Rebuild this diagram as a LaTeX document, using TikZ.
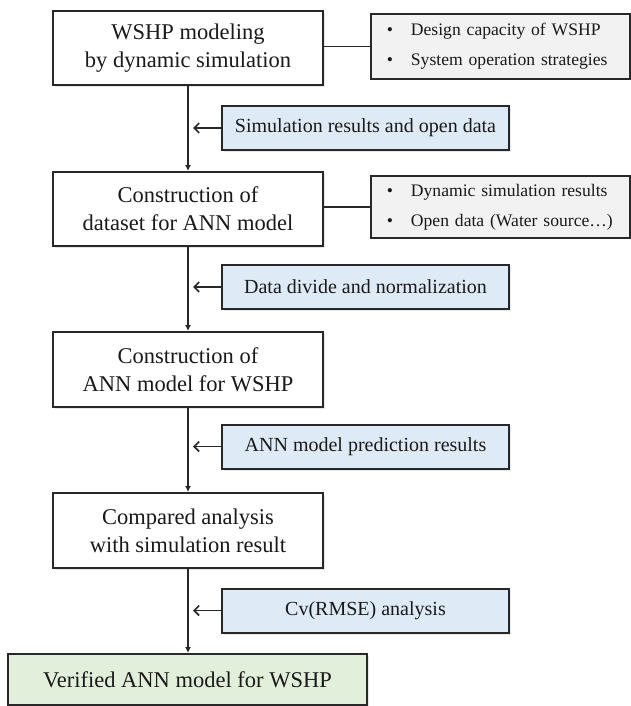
\documentclass[tikz,border=0pt]{standalone}
\usepackage{fontspec}
\setmainfont{Liberation Serif}
\usepackage{xcolor}
\usepackage{tikz}
\usetikzlibrary{arrows.meta, shadows}
\definecolor{inputblue}{RGB}{222, 235, 247}
\definecolor{notegray}{RGB}{242, 242, 242}
\definecolor{resultgreen}{RGB}{226, 239, 218}
\definecolor{edgegray}{RGB}{40, 40, 40}
\definecolor{inkgray}{RGB}{25, 25, 25}

\begin{document}
\begin{tikzpicture}[x=1pt, y=-1pt,
  boxshadow/.style={drop shadow={shadow xshift=2pt, shadow yshift=-2pt, opacity=0.2}},
  stagebox/.style={draw=edgegray, line width=2pt, fill=white, boxshadow, minimum width=270pt, minimum height=74pt, align=center, text=inkgray, font=\fontsize{22.5}{28}\selectfont},
  inputbox/.style={draw=edgegray, line width=2pt, fill=inputblue, boxshadow, minimum width=287pt, minimum height=44pt, text=inkgray, font=\fontsize{20}{24}\selectfont},
  notebox/.style={draw=edgegray, line width=1.6pt, fill=notegray, anchor=west, text width=227pt, inner xsep=16pt, minimum height=65pt, align=left, text=inkgray, font=\fontsize{17.6}{30}\selectfont},
  resultbox/.style={draw=edgegray, line width=2pt, fill=resultgreen, boxshadow, minimum width=359pt, minimum height=51pt, text=inkgray, font=\fontsize{22.5}{28}\selectfont},
  flow/.style={draw=edgegray, line width=1.6pt, -{Latex[length=6pt, width=6pt]}},
  feed/.style={draw=edgegray, line width=1.6pt, -{Straight Barb[length=5pt, width=10pt]}},
  link/.style={draw=edgegray, line width=1.6pt}]
  \useasboundingbox (0,0) rectangle (630,706);
  \node[stagebox] (st1) at (188,48) {WSHP modeling\\by dynamic simulation};
  \node[stagebox] (st2) at (188,209) {Construction of\\dataset for ANN model};
  \node[stagebox, minimum height=75pt] (st3) at (188,369.5) {Construction of\\ANN model for WSHP};
  \node[stagebox, minimum height=75pt] (st4) at (188,530.5) {Compared analysis\\with simulation result};
  \node[resultbox] (res) at (187.5,679.5) {Verified ANN model for WSHP};
  \node[notebox] (nt1) at (370,46.5) {\textbullet\hspace{18pt}Design capacity of WSHP\\\textbullet\hspace{18pt}System operation strategies};
  \node[notebox, minimum height=62pt] (nt2) at (370,207) {\textbullet\hspace{18pt}Dynamic simulation results\\\textbullet\hspace{18pt}Open data (Water source\ldots)};
  \node[inputbox] (in1) at (365.5,128) {Simulation results and open data};
  \node[inputbox] (in2) at (365.5,287) {Data divide and normalization};
  \node[inputbox] (in3) at (365.5,446.5) {ANN model prediction results};
  \node[inputbox] (in4) at (365.5,610.5) {Cv(RMSE) analysis};
  \coordinate (a1) at ([xshift=-28pt]in1.west);
  \coordinate (a2) at ([xshift=-28pt]in2.west);
  \coordinate (a3) at ([xshift=-28pt]in3.west);
  \coordinate (a4) at ([xshift=-28pt]in4.west);
  \draw[flow] (st1) -- (st2);
  \draw[flow] (st2) -- (st3);
  \draw[flow] (st3) -- (st4);
  \draw[flow] (st4.south) -- (st4.south |- res.north);
  \draw[feed] (in1.west) -- (a1);
  \draw[feed] (in2.west) -- (a2);
  \draw[feed] (in3.west) -- (a3);
  \draw[feed] (in4.west) -- (a4);
  \draw[link] (nt1.west -| st1.east) -- (nt1.west);
  \draw[link] (nt2.west -| st2.east) -- (nt2.west);
\end{tikzpicture}
\end{document}
